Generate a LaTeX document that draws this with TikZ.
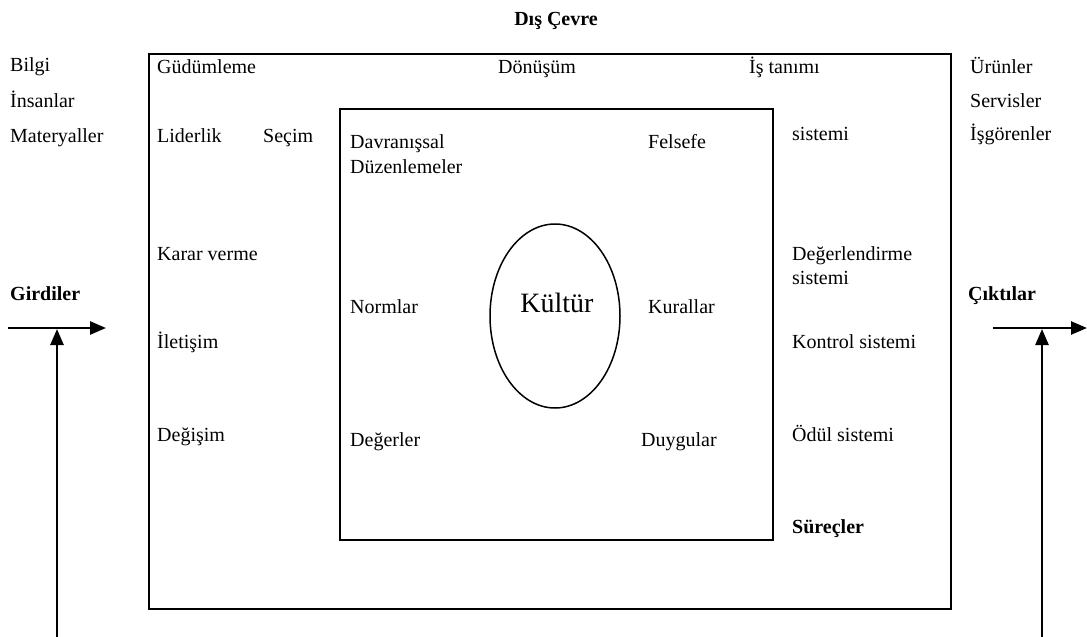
\documentclass[tikz,border=0pt]{standalone}
\usepackage{fontspec}
\setmainfont{Liberation Serif}
\usetikzlibrary{arrows.meta,shapes.geometric}
\begin{document}
\begin{tikzpicture}[x=1pt,y=-1pt,
  txt/.style={anchor=base west,inner sep=0pt,font=\fontsize{20}{24}\selectfont},
  btxt/.style={anchor=base west,inner sep=0pt,font=\fontsize{20}{24}\selectfont\bfseries},
  box/.style={draw,line width=2pt},
  arr/.style={line width=2.5pt,-{Triangle[length=16pt,width=13pt]}}]
\useasboundingbox (0,0) rectangle (1087,637);
% boxes
\node[box,minimum width=802pt,minimum height=555pt,anchor=north west,inner sep=0pt] (outer) at (148,53) {};
\node[box,minimum width=433pt,minimum height=431pt,anchor=north west,inner sep=0pt] (inner) at (339,108) {};
\node[draw,line width=1.5pt,ellipse,minimum width=130pt,minimum height=184pt,inner sep=0pt] (kultur) at (555,316) {};
\node[anchor=base,inner sep=0pt,font=\fontsize{28}{32}\selectfont] (kt) at (557,312) {Kültür};
% title
\node[anchor=base,inner sep=0pt,font=\fontsize{20}{24}\selectfont\bfseries] (dis) at (556,25) {Dış Çevre};
% left inputs
\node[txt] (bilgi) at (10,71) {Bilgi};
\node[txt] (insan) at (10,107) {İnsanlar};
\node[txt] (mat) at (10,142) {Materyaller};
\node[btxt] (gird) at (10,300) {Girdiler};
% right outputs
\node[txt] (urun) at (970,73) {Ürünler};
\node[txt] (serv) at (970,107) {Servisler};
\node[txt] (isg) at (970,140) {İşgörenler};
\node[btxt] (cikt) at (968,300) {Çıktılar};
% outer ring texts
\node[txt] (gud) at (157,73) {Güdümleme};
\node[txt] (don) at (498,73) {Dönüşüm};
\node[txt] (ist) at (749,73) {İş tanımı};
\node[txt] (lid) at (157,142) {Liderlik};
\node[txt] (sec) at (263,142) {Seçim};
\node[txt] (sis) at (792,140) {sistemi};
\node[txt] (karar) at (157,260) {Karar verme};
\node[txt] (deg1) at (792,260) {Değerlendirme};
\node[txt] (deg2) at (792,284) {sistemi};
\node[txt] (ilet) at (157,348) {İletişim};
\node[txt] (kont) at (792,348) {Kontrol sistemi};
\node[txt] (degis) at (157,441) {Değişim};
\node[txt] (odul) at (792,441) {Ödül sistemi};
\node[btxt] (surec) at (792,533) {Süreçler};
% inner texts
\node[txt] (davr1) at (350,148) {Davranışsal};
\node[txt] (davr2) at (350,173) {Düzenlemeler};
\node[txt] (fels) at (648,148) {Felsefe};
\node[txt] (norm) at (350,313) {Normlar};
\node[txt] (kur) at (648,313) {Kurallar};
\node[txt] (degr) at (350,446) {Değerler};
\node[txt] (duyg) at (641,446) {Duygular};
% arrows
\coordinate (lh0) at (8,328);
\coordinate (lh1) at (106,328);
\coordinate (lv0) at (57,637);
\coordinate (lv1) at (57,329);
\coordinate (rh0) at (993,328);
\coordinate (rh1) at (1087,328);
\coordinate (rv0) at (1042,637);
\coordinate (rv1) at (1042,329);
\draw[arr] (lh0) -- (lh1);
\draw[arr] (lv0) -- (lv1);
\draw[arr] (rh0) -- (rh1);
\draw[arr] (rv0) -- (rv1);
\end{tikzpicture}
\end{document}
